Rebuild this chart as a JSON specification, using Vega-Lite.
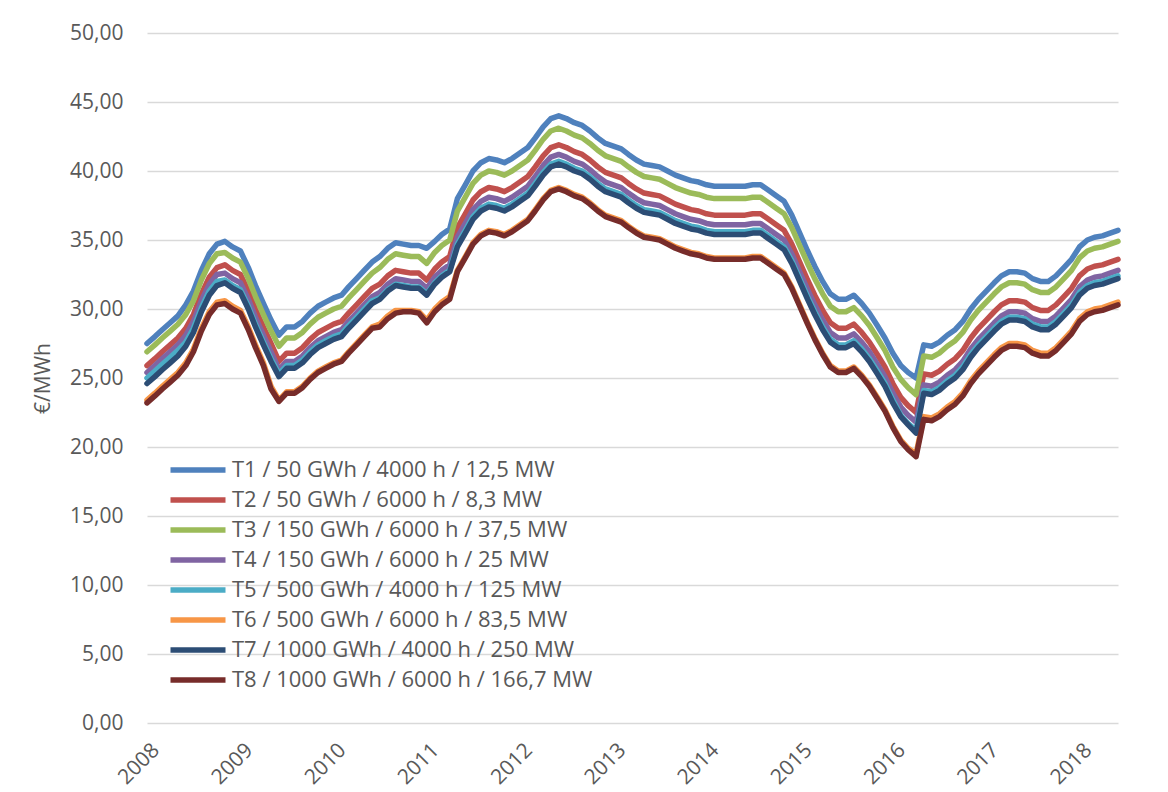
{
"$schema": "https://vega.github.io/schema/vega-lite/v6.json",
"width": 971, "height": 690,
"autosize": {"type": "none"},
"padding": {"left": 147, "top": 33, "right": 50, "bottom": 69},
"background": "white",
"config": {
 "locale": {"number": {"decimal": ",", "thousands": ".", "grouping": [3], "currency": ["", " €"]}},
 "view": {"stroke": null},
 "font": "Open Sans"
},
"data": {"values": [
{"d":"2008-01-01","T1":27.5,"T2":25.9,"T3":26.9,"T4":25.4,"T5":25.0,"T6":23.4,"T7":24.6,"T8":23.2},
{"d":"2008-02-01","T1":28.0,"T2":26.4,"T3":27.4,"T4":25.9,"T5":25.5,"T6":23.9,"T7":25.1,"T8":23.7},
{"d":"2008-03-01","T1":28.5,"T2":26.9,"T3":27.9,"T4":26.4,"T5":26.0,"T6":24.4,"T7":25.6,"T8":24.2},
{"d":"2008-04-01","T1":29.0,"T2":27.4,"T3":28.4,"T4":26.9,"T5":26.5,"T6":24.9,"T7":26.1,"T8":24.7},
{"d":"2008-05-01","T1":29.5,"T2":27.9,"T3":28.9,"T4":27.4,"T5":27.0,"T6":25.4,"T7":26.6,"T8":25.2},
{"d":"2008-06-01","T1":30.3,"T2":28.6,"T3":29.6,"T4":28.1,"T5":27.6,"T6":26.1,"T7":27.3,"T8":25.9},
{"d":"2008-07-01","T1":31.3,"T2":29.6,"T3":30.6,"T4":29.1,"T5":28.6,"T6":27.1,"T7":28.3,"T8":26.9},
{"d":"2008-08-01","T1":32.8,"T2":31.1,"T3":32.1,"T4":30.6,"T5":30.1,"T6":28.6,"T7":29.8,"T8":28.4},
{"d":"2008-09-01","T1":34.0,"T2":32.3,"T3":33.3,"T4":31.8,"T5":31.3,"T6":29.8,"T7":31.0,"T8":29.6},
{"d":"2008-10-01","T1":34.7,"T2":33.0,"T3":34.0,"T4":32.5,"T5":32.0,"T6":30.5,"T7":31.7,"T8":30.3},
{"d":"2008-11-01","T1":34.9,"T2":33.2,"T3":34.1,"T4":32.6,"T5":32.1,"T6":30.6,"T7":31.9,"T8":30.4},
{"d":"2008-12-01","T1":34.5,"T2":32.8,"T3":33.7,"T4":32.2,"T5":31.7,"T6":30.2,"T7":31.5,"T8":30.0},
{"d":"2009-01-01","T1":34.2,"T2":32.5,"T3":33.4,"T4":31.9,"T5":31.4,"T6":29.9,"T7":31.2,"T8":29.7},
{"d":"2009-02-01","T1":33.0,"T2":31.3,"T3":32.2,"T4":30.7,"T5":30.2,"T6":28.7,"T7":30.0,"T8":28.5},
{"d":"2009-03-01","T1":31.7,"T2":30.0,"T3":30.9,"T4":29.4,"T5":28.9,"T6":27.4,"T7":28.7,"T8":27.2},
{"d":"2009-04-01","T1":30.4,"T2":28.7,"T3":29.6,"T4":28.1,"T5":27.6,"T6":26.1,"T7":27.4,"T8":25.9},
{"d":"2009-05-01","T1":29.2,"T2":27.5,"T3":28.4,"T4":26.9,"T5":26.4,"T6":24.4,"T7":26.2,"T8":24.2},
{"d":"2009-06-01","T1":28.1,"T2":26.2,"T3":27.3,"T4":25.6,"T5":25.3,"T6":23.4,"T7":25.1,"T8":23.3},
{"d":"2009-07-01","T1":28.7,"T2":26.8,"T3":27.9,"T4":26.2,"T5":25.9,"T6":24.0,"T7":25.7,"T8":23.9},
{"d":"2009-08-01","T1":28.7,"T2":26.8,"T3":27.9,"T4":26.2,"T5":25.9,"T6":24.0,"T7":25.7,"T8":23.9},
{"d":"2009-09-01","T1":29.1,"T2":27.2,"T3":28.3,"T4":26.6,"T5":26.3,"T6":24.4,"T7":26.1,"T8":24.3},
{"d":"2009-10-01","T1":29.7,"T2":27.8,"T3":28.9,"T4":27.2,"T5":26.9,"T6":25.0,"T7":26.7,"T8":24.9},
{"d":"2009-11-01","T1":30.2,"T2":28.3,"T3":29.4,"T4":27.7,"T5":27.4,"T6":25.5,"T7":27.2,"T8":25.4},
{"d":"2009-12-01","T1":30.5,"T2":28.6,"T3":29.7,"T4":28.0,"T5":27.7,"T6":25.8,"T7":27.5,"T8":25.7},
{"d":"2010-01-01","T1":30.8,"T2":28.9,"T3":30.0,"T4":28.3,"T5":28.0,"T6":26.1,"T7":27.8,"T8":26.0},
{"d":"2010-02-01","T1":31.0,"T2":29.1,"T3":30.2,"T4":28.5,"T5":28.2,"T6":26.3,"T7":28.0,"T8":26.2},
{"d":"2010-03-01","T1":31.6,"T2":29.7,"T3":30.8,"T4":29.1,"T5":28.8,"T6":26.9,"T7":28.6,"T8":26.8},
{"d":"2010-04-01","T1":32.2,"T2":30.3,"T3":31.4,"T4":29.7,"T5":29.4,"T6":27.5,"T7":29.2,"T8":27.4},
{"d":"2010-05-01","T1":32.8,"T2":30.9,"T3":32.0,"T4":30.3,"T5":30.0,"T6":28.1,"T7":29.8,"T8":28.0},
{"d":"2010-06-01","T1":33.4,"T2":31.5,"T3":32.6,"T4":30.9,"T5":30.6,"T6":28.7,"T7":30.4,"T8":28.6},
{"d":"2010-07-01","T1":33.8,"T2":31.8,"T3":33.0,"T4":31.2,"T5":30.8,"T6":28.9,"T7":30.7,"T8":28.7},
{"d":"2010-08-01","T1":34.4,"T2":32.4,"T3":33.6,"T4":31.8,"T5":31.4,"T6":29.5,"T7":31.3,"T8":29.3},
{"d":"2010-09-01","T1":34.8,"T2":32.8,"T3":34.0,"T4":32.2,"T5":31.8,"T6":29.9,"T7":31.7,"T8":29.7},
{"d":"2010-10-01","T1":34.7,"T2":32.7,"T3":33.9,"T4":32.1,"T5":31.7,"T6":29.9,"T7":31.6,"T8":29.8},
{"d":"2010-11-01","T1":34.6,"T2":32.6,"T3":33.8,"T4":32.0,"T5":31.6,"T6":29.9,"T7":31.5,"T8":29.8},
{"d":"2010-12-01","T1":34.6,"T2":32.6,"T3":33.8,"T4":32.0,"T5":31.6,"T6":29.8,"T7":31.5,"T8":29.7},
{"d":"2011-01-01","T1":34.4,"T2":32.1,"T3":33.3,"T4":31.5,"T5":31.1,"T6":29.2,"T7":31.0,"T8":29.0},
{"d":"2011-02-01","T1":34.9,"T2":32.9,"T3":34.1,"T4":32.3,"T5":31.9,"T6":30.0,"T7":31.8,"T8":29.8},
{"d":"2011-03-01","T1":35.4,"T2":33.4,"T3":34.6,"T4":32.8,"T5":32.4,"T6":30.5,"T7":32.3,"T8":30.3},
{"d":"2011-04-01","T1":35.8,"T2":33.8,"T3":35.0,"T4":33.2,"T5":32.8,"T6":30.9,"T7":32.7,"T8":30.7},
{"d":"2011-05-01","T1":38.0,"T2":35.9,"T3":37.1,"T4":35.2,"T5":34.7,"T6":32.8,"T7":34.5,"T8":32.7},
{"d":"2011-06-01","T1":39.0,"T2":36.9,"T3":38.1,"T4":36.2,"T5":35.7,"T6":33.8,"T7":35.5,"T8":33.7},
{"d":"2011-07-01","T1":40.0,"T2":37.9,"T3":39.1,"T4":37.2,"T5":36.7,"T6":34.8,"T7":36.5,"T8":34.7},
{"d":"2011-08-01","T1":40.6,"T2":38.5,"T3":39.7,"T4":37.8,"T5":37.3,"T6":35.4,"T7":37.1,"T8":35.3},
{"d":"2011-09-01","T1":40.9,"T2":38.8,"T3":40.0,"T4":38.1,"T5":37.6,"T6":35.7,"T7":37.4,"T8":35.6},
{"d":"2011-10-01","T1":40.8,"T2":38.7,"T3":39.9,"T4":38.0,"T5":37.5,"T6":35.6,"T7":37.3,"T8":35.5},
{"d":"2011-11-01","T1":40.6,"T2":38.5,"T3":39.7,"T4":37.8,"T5":37.3,"T6":35.4,"T7":37.1,"T8":35.3},
{"d":"2011-12-01","T1":40.9,"T2":38.8,"T3":40.0,"T4":38.1,"T5":37.6,"T6":35.7,"T7":37.4,"T8":35.6},
{"d":"2012-01-01","T1":41.3,"T2":39.2,"T3":40.4,"T4":38.5,"T5":38.0,"T6":36.1,"T7":37.8,"T8":36.0},
{"d":"2012-02-01","T1":41.7,"T2":39.6,"T3":40.8,"T4":38.9,"T5":38.4,"T6":36.5,"T7":38.2,"T8":36.4},
{"d":"2012-03-01","T1":42.4,"T2":40.3,"T3":41.5,"T4":39.6,"T5":39.1,"T6":37.2,"T7":38.9,"T8":37.1},
{"d":"2012-04-01","T1":43.2,"T2":41.1,"T3":42.3,"T4":40.4,"T5":39.9,"T6":38.0,"T7":39.7,"T8":37.9},
{"d":"2012-05-01","T1":43.8,"T2":41.7,"T3":42.9,"T4":41.0,"T5":40.5,"T6":38.6,"T7":40.3,"T8":38.5},
{"d":"2012-06-01","T1":44.0,"T2":41.9,"T3":43.1,"T4":41.2,"T5":40.7,"T6":38.8,"T7":40.5,"T8":38.7},
{"d":"2012-07-01","T1":43.8,"T2":41.7,"T3":42.9,"T4":41.0,"T5":40.5,"T6":38.6,"T7":40.3,"T8":38.5},
{"d":"2012-08-01","T1":43.5,"T2":41.4,"T3":42.6,"T4":40.7,"T5":40.2,"T6":38.3,"T7":40.0,"T8":38.2},
{"d":"2012-09-01","T1":43.3,"T2":41.2,"T3":42.4,"T4":40.5,"T5":40.0,"T6":38.1,"T7":39.8,"T8":38.0},
{"d":"2012-10-01","T1":42.9,"T2":40.8,"T3":42.0,"T4":40.1,"T5":39.6,"T6":37.7,"T7":39.4,"T8":37.6},
{"d":"2012-11-01","T1":42.4,"T2":40.3,"T3":41.5,"T4":39.6,"T5":39.1,"T6":37.2,"T7":38.9,"T8":37.1},
{"d":"2012-12-01","T1":42.0,"T2":39.9,"T3":41.1,"T4":39.2,"T5":38.7,"T6":36.8,"T7":38.5,"T8":36.7},
{"d":"2013-01-01","T1":41.8,"T2":39.7,"T3":40.9,"T4":39.0,"T5":38.5,"T6":36.6,"T7":38.3,"T8":36.5},
{"d":"2013-02-01","T1":41.6,"T2":39.5,"T3":40.7,"T4":38.8,"T5":38.3,"T6":36.4,"T7":38.1,"T8":36.3},
{"d":"2013-03-01","T1":41.2,"T2":39.1,"T3":40.3,"T4":38.4,"T5":37.9,"T6":36.0,"T7":37.7,"T8":35.9},
{"d":"2013-04-01","T1":40.8,"T2":38.7,"T3":39.9,"T4":38.0,"T5":37.5,"T6":35.6,"T7":37.3,"T8":35.5},
{"d":"2013-05-01","T1":40.5,"T2":38.4,"T3":39.6,"T4":37.7,"T5":37.2,"T6":35.3,"T7":37.0,"T8":35.2},
{"d":"2013-06-01","T1":40.4,"T2":38.3,"T3":39.5,"T4":37.6,"T5":37.1,"T6":35.2,"T7":36.9,"T8":35.1},
{"d":"2013-07-01","T1":40.3,"T2":38.2,"T3":39.4,"T4":37.5,"T5":37.0,"T6":35.1,"T7":36.8,"T8":35.0},
{"d":"2013-08-01","T1":40.0,"T2":37.9,"T3":39.1,"T4":37.2,"T5":36.7,"T6":34.8,"T7":36.5,"T8":34.7},
{"d":"2013-09-01","T1":39.7,"T2":37.6,"T3":38.8,"T4":36.9,"T5":36.4,"T6":34.5,"T7":36.2,"T8":34.4},
{"d":"2013-10-01","T1":39.5,"T2":37.4,"T3":38.6,"T4":36.7,"T5":36.2,"T6":34.3,"T7":36.0,"T8":34.2},
{"d":"2013-11-01","T1":39.3,"T2":37.2,"T3":38.4,"T4":36.5,"T5":36.0,"T6":34.1,"T7":35.8,"T8":34.0},
{"d":"2013-12-01","T1":39.2,"T2":37.1,"T3":38.3,"T4":36.4,"T5":35.9,"T6":34.0,"T7":35.7,"T8":33.9},
{"d":"2014-01-01","T1":39.0,"T2":36.9,"T3":38.1,"T4":36.2,"T5":35.7,"T6":33.8,"T7":35.5,"T8":33.7},
{"d":"2014-02-01","T1":38.9,"T2":36.8,"T3":38.0,"T4":36.1,"T5":35.6,"T6":33.7,"T7":35.4,"T8":33.6},
{"d":"2014-03-01","T1":38.9,"T2":36.8,"T3":38.0,"T4":36.1,"T5":35.6,"T6":33.7,"T7":35.4,"T8":33.6},
{"d":"2014-04-01","T1":38.9,"T2":36.8,"T3":38.0,"T4":36.1,"T5":35.6,"T6":33.7,"T7":35.4,"T8":33.6},
{"d":"2014-05-01","T1":38.9,"T2":36.8,"T3":38.0,"T4":36.1,"T5":35.6,"T6":33.7,"T7":35.4,"T8":33.6},
{"d":"2014-06-01","T1":38.9,"T2":36.8,"T3":38.0,"T4":36.1,"T5":35.6,"T6":33.7,"T7":35.4,"T8":33.6},
{"d":"2014-07-01","T1":39.0,"T2":36.9,"T3":38.1,"T4":36.2,"T5":35.7,"T6":33.8,"T7":35.5,"T8":33.7},
{"d":"2014-08-01","T1":39.0,"T2":36.9,"T3":38.1,"T4":36.2,"T5":35.7,"T6":33.8,"T7":35.5,"T8":33.7},
{"d":"2014-09-01","T1":38.6,"T2":36.5,"T3":37.7,"T4":35.8,"T5":35.3,"T6":33.4,"T7":35.1,"T8":33.3},
{"d":"2014-10-01","T1":38.2,"T2":36.1,"T3":37.3,"T4":35.4,"T5":34.9,"T6":33.0,"T7":34.7,"T8":32.9},
{"d":"2014-11-01","T1":37.8,"T2":35.7,"T3":36.9,"T4":35.0,"T5":34.5,"T6":32.6,"T7":34.3,"T8":32.5},
{"d":"2014-12-01","T1":36.8,"T2":34.7,"T3":35.9,"T4":34.0,"T5":33.5,"T6":31.6,"T7":33.3,"T8":31.5},
{"d":"2015-01-01","T1":35.5,"T2":33.4,"T3":34.6,"T4":32.7,"T5":32.2,"T6":30.3,"T7":32.0,"T8":30.2},
{"d":"2015-02-01","T1":34.2,"T2":32.1,"T3":33.3,"T4":31.4,"T5":30.9,"T6":29.0,"T7":30.7,"T8":28.9},
{"d":"2015-03-01","T1":33.1,"T2":31.0,"T3":32.2,"T4":30.3,"T5":29.8,"T6":27.9,"T7":29.6,"T8":27.8},
{"d":"2015-04-01","T1":32.0,"T2":29.9,"T3":31.1,"T4":29.2,"T5":28.7,"T6":26.8,"T7":28.5,"T8":26.7},
{"d":"2015-05-01","T1":31.1,"T2":29.0,"T3":30.2,"T4":28.3,"T5":27.8,"T6":25.9,"T7":27.6,"T8":25.8},
{"d":"2015-06-01","T1":30.7,"T2":28.6,"T3":29.8,"T4":27.9,"T5":27.4,"T6":25.5,"T7":27.2,"T8":25.4},
{"d":"2015-07-01","T1":30.7,"T2":28.6,"T3":29.8,"T4":27.9,"T5":27.4,"T6":25.5,"T7":27.2,"T8":25.4},
{"d":"2015-08-01","T1":31.0,"T2":28.9,"T3":30.1,"T4":28.2,"T5":27.7,"T6":25.8,"T7":27.5,"T8":25.7},
{"d":"2015-09-01","T1":30.4,"T2":28.3,"T3":29.5,"T4":27.6,"T5":27.1,"T6":25.2,"T7":26.9,"T8":25.1},
{"d":"2015-10-01","T1":29.7,"T2":27.6,"T3":28.8,"T4":26.9,"T5":26.4,"T6":24.5,"T7":26.2,"T8":24.4},
{"d":"2015-11-01","T1":28.8,"T2":26.7,"T3":27.9,"T4":26.0,"T5":25.5,"T6":23.6,"T7":25.3,"T8":23.5},
{"d":"2015-12-01","T1":27.9,"T2":25.8,"T3":27.0,"T4":25.1,"T5":24.6,"T6":22.7,"T7":24.4,"T8":22.6},
{"d":"2016-01-01","T1":26.8,"T2":24.6,"T3":25.8,"T4":23.9,"T5":23.4,"T6":21.5,"T7":23.2,"T8":21.4},
{"d":"2016-02-01","T1":25.9,"T2":23.6,"T3":24.9,"T4":22.9,"T5":22.3,"T6":20.5,"T7":22.2,"T8":20.4},
{"d":"2016-03-01","T1":25.4,"T2":23.0,"T3":24.3,"T4":22.3,"T5":21.7,"T6":19.9,"T7":21.6,"T8":19.8},
{"d":"2016-04-01","T1":25.0,"T2":22.5,"T3":23.8,"T4":21.8,"T5":21.2,"T6":19.5,"T7":21.0,"T8":19.3},
{"d":"2016-05-01","T1":27.4,"T2":25.3,"T3":26.6,"T4":24.5,"T5":24.1,"T6":22.2,"T7":23.9,"T8":22.0},
{"d":"2016-06-01","T1":27.3,"T2":25.2,"T3":26.5,"T4":24.4,"T5":24.0,"T6":22.1,"T7":23.8,"T8":21.9},
{"d":"2016-07-01","T1":27.6,"T2":25.5,"T3":26.8,"T4":24.7,"T5":24.3,"T6":22.4,"T7":24.1,"T8":22.2},
{"d":"2016-08-01","T1":28.1,"T2":26.0,"T3":27.3,"T4":25.2,"T5":24.8,"T6":22.9,"T7":24.6,"T8":22.7},
{"d":"2016-09-01","T1":28.5,"T2":26.4,"T3":27.7,"T4":25.6,"T5":25.2,"T6":23.3,"T7":25.0,"T8":23.1},
{"d":"2016-10-01","T1":29.1,"T2":27.0,"T3":28.3,"T4":26.2,"T5":25.8,"T6":23.9,"T7":25.6,"T8":23.7},
{"d":"2016-11-01","T1":30.0,"T2":27.9,"T3":29.2,"T4":27.1,"T5":26.7,"T6":24.8,"T7":26.5,"T8":24.6},
{"d":"2016-12-01","T1":30.7,"T2":28.6,"T3":29.9,"T4":27.8,"T5":27.4,"T6":25.5,"T7":27.2,"T8":25.3},
{"d":"2017-01-01","T1":31.3,"T2":29.2,"T3":30.5,"T4":28.4,"T5":28.0,"T6":26.1,"T7":27.8,"T8":25.9},
{"d":"2017-02-01","T1":31.9,"T2":29.8,"T3":31.1,"T4":29.0,"T5":28.6,"T6":26.7,"T7":28.4,"T8":26.5},
{"d":"2017-03-01","T1":32.4,"T2":30.3,"T3":31.6,"T4":29.5,"T5":29.1,"T6":27.2,"T7":28.9,"T8":27.0},
{"d":"2017-04-01","T1":32.7,"T2":30.6,"T3":31.9,"T4":29.8,"T5":29.4,"T6":27.5,"T7":29.2,"T8":27.3},
{"d":"2017-05-01","T1":32.7,"T2":30.6,"T3":31.9,"T4":29.8,"T5":29.4,"T6":27.5,"T7":29.2,"T8":27.3},
{"d":"2017-06-01","T1":32.6,"T2":30.5,"T3":31.8,"T4":29.7,"T5":29.3,"T6":27.4,"T7":29.1,"T8":27.2},
{"d":"2017-07-01","T1":32.2,"T2":30.1,"T3":31.4,"T4":29.3,"T5":28.9,"T6":27.0,"T7":28.7,"T8":26.8},
{"d":"2017-08-01","T1":32.0,"T2":29.9,"T3":31.2,"T4":29.1,"T5":28.7,"T6":26.8,"T7":28.5,"T8":26.6},
{"d":"2017-09-01","T1":32.0,"T2":29.9,"T3":31.2,"T4":29.1,"T5":28.7,"T6":26.8,"T7":28.5,"T8":26.6},
{"d":"2017-10-01","T1":32.4,"T2":30.3,"T3":31.6,"T4":29.5,"T5":29.1,"T6":27.2,"T7":28.9,"T8":27.0},
{"d":"2017-11-01","T1":33.0,"T2":30.9,"T3":32.2,"T4":30.1,"T5":29.7,"T6":27.8,"T7":29.5,"T8":27.6},
{"d":"2017-12-01","T1":33.6,"T2":31.5,"T3":32.8,"T4":30.7,"T5":30.3,"T6":28.4,"T7":30.1,"T8":28.2},
{"d":"2018-01-01","T1":34.5,"T2":32.4,"T3":33.7,"T4":31.6,"T5":31.2,"T6":29.3,"T7":31.0,"T8":29.1},
{"d":"2018-02-01","T1":35.0,"T2":32.9,"T3":34.2,"T4":32.1,"T5":31.7,"T6":29.8,"T7":31.5,"T8":29.6},
{"d":"2018-03-01","T1":35.2,"T2":33.1,"T3":34.4,"T4":32.3,"T5":31.9,"T6":30.0,"T7":31.7,"T8":29.8},
{"d":"2018-04-01","T1":35.3,"T2":33.2,"T3":34.5,"T4":32.4,"T5":32.0,"T6":30.1,"T7":31.8,"T8":29.9},
{"d":"2018-05-01","T1":35.5,"T2":33.4,"T3":34.7,"T4":32.6,"T5":32.2,"T6":30.3,"T7":32.0,"T8":30.1},
{"d":"2018-06-01","T1":35.7,"T2":33.6,"T3":34.9,"T4":32.8,"T5":32.4,"T6":30.5,"T7":32.2,"T8":30.3}
]},
"transform": [
 {"fold": ["T1","T2","T3","T4","T5","T6","T7","T8"], "as": ["k","value"]},
 {"lookup": "k", "from": {"data": {"values": [
   {"k":"T1","serie":"T1 / 50 GWh / 4000 h / 12,5 MW"},
   {"k":"T2","serie":"T2 / 50 GWh / 6000 h / 8,3 MW"},
   {"k":"T3","serie":"T3 / 150 GWh / 6000 h / 37,5 MW"},
   {"k":"T4","serie":"T4 / 150 GWh / 6000 h / 25 MW"},
   {"k":"T5","serie":"T5 / 500 GWh / 4000 h / 125 MW"},
   {"k":"T6","serie":"T6 / 500 GWh / 6000 h / 83,5 MW"},
   {"k":"T7","serie":"T7 / 1000 GWh / 4000 h / 250 MW"},
   {"k":"T8","serie":"T8 / 1000 GWh / 6000 h / 166,7 MW"}
 ]}, "key": "k", "fields": ["serie"]}}
],
"mark": {"type": "line", "strokeWidth": 5.5, "strokeJoin": "round", "strokeCap": "round"},
"encoding": {
 "x": {"field": "d", "type": "temporal",
   "scale": {"type": "utc", "nice": false},
   "axis": {"title": null, "format": "%Y", "tickCount": {"interval": "year", "step": 1},
     "labelAngle": -45, "labelFontSize": 21, "labelColor": "#595959", "labelFont": "Open Sans",
     "grid": false, "domain": false, "ticks": false, "labelPadding": 16, "labelOffset": 1}},
 "y": {"field": "value", "type": "quantitative",
   "scale": {"domain": [0, 50], "nice": false, "zero": true},
   "axis": {"title": "€/MWh", "values": [0,5,10,15,20,25,30,35,40,45,50], "format": ".2f",
     "labelFontSize": 21, "labelColor": "#595959", "labelFont": "Open Sans", "labelPadding": 24,
     "titleFontSize": 21, "titleColor": "#595959", "titleFont": "Open Sans", "titleFontWeight": "normal", "titlePadding": 16,
     "grid": true, "gridColor": "#d9d9d9", "gridWidth": 1.5, "domain": false, "ticks": false}},
 "color": {"field": "serie", "type": "nominal",
   "scale": {"domain": [
     "T1 / 50 GWh / 4000 h / 12,5 MW",
     "T2 / 50 GWh / 6000 h / 8,3 MW",
     "T3 / 150 GWh / 6000 h / 37,5 MW",
     "T4 / 150 GWh / 6000 h / 25 MW",
     "T5 / 500 GWh / 4000 h / 125 MW",
     "T6 / 500 GWh / 6000 h / 83,5 MW",
     "T7 / 1000 GWh / 4000 h / 250 MW",
     "T8 / 1000 GWh / 6000 h / 166,7 MW"],
     "range": ["#4F81BD","#C0504D","#9BBB59","#8064A2","#4BACC6","#F79646","#2C4D75","#772C2A"]},
   "legend": {"orient": "none", "legendX": 37, "legendY": 423, "title": null, "padding": 0,
     "symbolType": "M-2.5,0H2.5", "symbolStrokeWidth": 5.5, "symbolSize": 484, "symbolOpacity": 1,
     "symbolStrokeCap": "round",
     "labelFontSize": 22, "labelColor": "#595959", "labelFont": "Open Sans", "labelOffset": 20,
     "rowPadding": 5, "labelLimit": 600}}
}
}
